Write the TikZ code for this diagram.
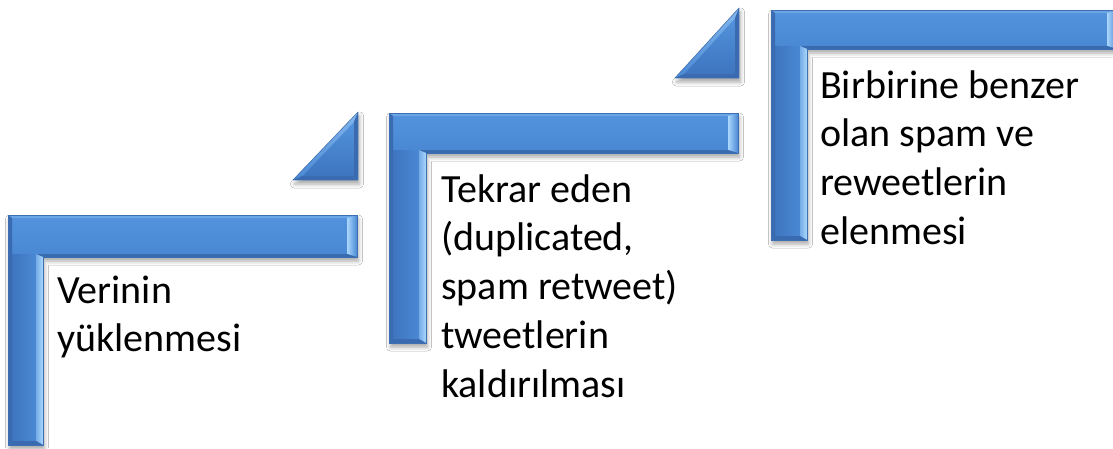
\documentclass[tikz,border=0pt]{standalone}
\usepackage{fontspec}
\setmainfont{Carlito}
\usetikzlibrary{calc,shadows.blur}

\definecolor{faceblue}{HTML}{4A88D4}
\definecolor{facedark}{HTML}{3E75BF}
\definecolor{facelight}{HTML}{5292DC}
\definecolor{rimdark}{HTML}{2F5FA3}
\definecolor{rimmid}{HTML}{3A6BB0}
\definecolor{rimtop}{HTML}{6AA5E6}
\definecolor{rimlight}{HTML}{AAD7FD}
\definecolor{outlineblue}{HTML}{3D6FB2}

\tikzset{
  softshadow/.style={blur shadow={shadow xshift=1.5pt, shadow yshift=-4pt,
      shadow blur radius=4pt, shadow opacity=35}},
  steplabel/.style={font=\fontsize{40}{48.8}\selectfont, anchor=north west,
      inner sep=0pt, align=left, text=black},
  rim/.style={line width=0.4pt, draw=outlineblue},
}

% Bevelled L-shaped bracket: #1 name, #2 left, #3 top, #4 right end,
% #5 bottom of the bar, #6 inner edge of the upright, #7 foot.
% Bevel widths: top 3, left 4, end 10, under the bar 3, inner upright 7, foot 4.
\newcommand\bracketshape[7]{%
  \coordinate (#1-a) at (#2,#3);
  \coordinate (#1-b) at (#4,#3);
  \coordinate (#1-c) at (#4,#5);
  \coordinate (#1-d) at (#6,#5);
  \coordinate (#1-e) at (#6,#7);
  \coordinate (#1-f) at (#2,#7);
  \coordinate (#1-ai) at ($(#1-a)+(4,3)$);
  \coordinate (#1-bi) at ($(#1-b)+(-10,3)$);
  \coordinate (#1-ci) at ($(#1-c)+(-10,-3)$);
  \coordinate (#1-di) at ($(#1-d)+(-7,-3)$);
  \coordinate (#1-ei) at ($(#1-e)+(-7,-4)$);
  \coordinate (#1-fi) at ($(#1-f)+(4,-4)$);
  % shadow and base
  \path[softshadow, fill=faceblue]
    (#1-a) -- (#1-b) -- (#1-c) -- (#1-d) -- (#1-e) -- (#1-f) -- cycle;
  % main face
  \fill[faceblue] (#1-ai) -- (#1-bi) -- (#1-ci) -- (#1-di) -- (#1-ei) -- (#1-fi) -- cycle;
  \shade[top color=facelight, bottom color=faceblue]
    (#1-ai) -- (#1-bi) -- (#1-ci) -- (#1-di) -- (#1-ai |- #1-di) -- cycle;
  \shade[left color=facedark, right color=faceblue]
    (#1-ai |- #1-di) rectangle (#1-ei);
  % bevel faces
  \fill[rimtop] (#1-a) -- (#1-b) -- (#1-bi) -- (#1-ai) -- cycle;
  \shade[left color=rimlight, right color=faceblue]
    (#1-b) -- (#1-c) -- (#1-ci) -- (#1-bi) -- cycle;
  \fill[rimmid] (#1-c) -- (#1-d) -- (#1-di) -- (#1-ci) -- cycle;
  \shade[left color=faceblue!55!rimlight, right color=rimlight]
    (#1-d) -- (#1-e) -- (#1-ei) -- (#1-di) -- cycle;
  \fill[rimmid] (#1-e) -- (#1-f) -- (#1-fi) -- (#1-ei) -- cycle;
  \fill[rimmid] (#1-f) -- (#1-a) -- (#1-ai) -- (#1-fi) -- cycle;
  \draw[rim] (#1-a) -- (#1-b) -- (#1-c) -- (#1-d) -- (#1-e) -- (#1-f) -- cycle;
}

% Bevelled right-angled wedge: #1 name, #2 left, #3 top, #4 right, #5 bottom
\newcommand\bevelwedge[5]{%
  \pgfmathsetmacro\wedgew{#4-#2}%
  \pgfmathsetmacro\wedgeh{#5-#3}%
  \pgfmathsetmacro\wedger{(\wedgew+\wedgeh-sqrt(\wedgew*\wedgew+\wedgeh*\wedgeh))/2}%
  \pgfmathsetmacro\wedgek{(\wedger-4)/\wedger}%
  \coordinate (#1-A) at (#2,#5);
  \coordinate (#1-B) at (#4,#3);
  \coordinate (#1-C) at (#4,#5);
  \coordinate (#1-I) at (#4-\wedger,#5-\wedger);
  \coordinate (#1-Ai) at ($(#1-I)!\wedgek!(#1-A)$);
  \coordinate (#1-Bi) at ($(#1-I)!\wedgek!(#1-B)$);
  \coordinate (#1-Ci) at ($(#1-I)!\wedgek!(#1-C)$);
  \path[softshadow, fill=faceblue] (#1-A) -- (#1-B) -- (#1-C) -- cycle;
  \shade[top color=facelight, bottom color=facedark] (#1-Ai) -- (#1-Bi) -- (#1-Ci) -- cycle;
  \shade[top color=rimlight!60!faceblue, bottom color=faceblue]
    (#1-A) -- (#1-B) -- (#1-Bi) -- (#1-Ai) -- cycle;
  \fill[rimmid] (#1-B) -- (#1-C) -- (#1-Ci) -- (#1-Bi) -- cycle;
  \fill[rimmid] (#1-C) -- (#1-A) -- (#1-Ai) -- (#1-Ci) -- cycle;
  \draw[rim] (#1-A) -- (#1-B) -- (#1-C) -- cycle;
}

\begin{document}
\begin{tikzpicture}[x=1pt, y=-1pt]
  \fill[white] (0,0) rectangle (1113,448);
  \useasboundingbox (0,0) rectangle (1113,448);

  % step brackets
  \bracketshape{first}{8}{215}{357}{257}{43}{445}
  \bracketshape{second}{389}{113}{738}{153}{426}{343}
  \bracketshape{third}{771}{10}{1117}{49}{807}{240}

  % connecting wedges
  \bevelwedge{wedgeone}{293}{112}{358}{180}
  \bevelwedge{wedgetwo}{675}{8}{739}{78}

  % labels
  \node[steplabel] (load) at (57,268.8) {\strut Verinin\\yüklenmesi};
  \node[steplabel] (dedup) at (441,167.8)
    {\strut Tekrar eden\\(duplicated,\\spam retweet)\\tweetlerin\\kaldırılması};
  \node[steplabel] (filter) at (820,63.8)
    {\strut Birbirine benzer\\olan spam ve\\reweetlerin\\elenmesi};
\end{tikzpicture}
\end{document}
